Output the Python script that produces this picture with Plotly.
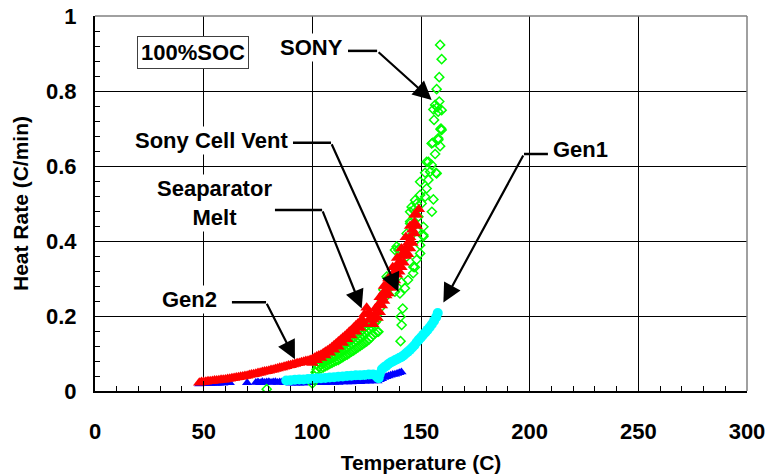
import plotly.graph_objects as go

# ---------------- data ----------------
# Gen2 (red triangles): main trace of readings plus the edges of the noisy band
GEN2_T = [48, 49, 50, 51, 52, 53, 54, 55, 56, 57, 58, 59, 60, 61, 62, 63, 64, 65, 66, 67,
          68, 69, 70, 71, 72, 73, 74, 75, 76, 77, 78, 79, 80, 81, 82, 83, 84, 85, 86, 87,
          88, 89, 90, 91, 92, 93, 94, 95, 96, 97, 98, 99, 100, 101, 102, 103, 104, 105,
          106, 107, 108, 109, 110, 111, 112, 113, 114, 115, 116, 117, 118, 119, 120, 121,
          122, 123, 124, 125, 126, 127, 128, 129, 130, 131, 132, 133, 134, 135, 136, 137,
          138, 139, 140, 141, 142, 143, 144, 145, 146, 147, 148, 149,
          100, 102, 104, 106, 108, 110, 112, 114, 116, 118, 120, 122, 124, 126, 128, 130,
          132, 134, 136, 138, 140, 142, 144, 146, 148,
          131, 133, 135, 137, 139, 141, 143, 145, 147,
          129, 131, 133, 135, 137, 139, 141, 143, 145, 147]
GEN2_R = [0.022, 0.024, 0.024, 0.025, 0.026, 0.026, 0.027, 0.028, 0.028, 0.029, 0.030,
          0.030, 0.031, 0.032, 0.033, 0.034, 0.035, 0.036, 0.037, 0.038, 0.039, 0.040,
          0.041, 0.043, 0.044, 0.045, 0.046, 0.048, 0.049, 0.051, 0.052, 0.053, 0.054,
          0.056, 0.057, 0.059, 0.060, 0.062, 0.063, 0.065, 0.066, 0.068, 0.069, 0.071,
          0.072, 0.074, 0.075, 0.077, 0.078, 0.080, 0.081, 0.083, 0.085, 0.089, 0.092,
          0.095, 0.097, 0.101, 0.105, 0.108, 0.112, 0.117, 0.122, 0.127, 0.132, 0.137,
          0.142, 0.147, 0.152, 0.158, 0.163, 0.169, 0.175, 0.180, 0.185, 0.190, 0.205,
          0.222, 0.210, 0.195, 0.190, 0.200, 0.215, 0.235, 0.250, 0.265, 0.280, 0.290,
          0.300, 0.310, 0.320, 0.335, 0.345, 0.360, 0.370, 0.380, 0.395, 0.410, 0.430,
          0.450, 0.470, 0.485,
          0.075, 0.082, 0.088, 0.095, 0.102, 0.110, 0.118, 0.128, 0.138, 0.148, 0.158,
          0.168, 0.178, 0.190, 0.178, 0.195, 0.228, 0.255, 0.275, 0.295, 0.318, 0.342,
          0.365, 0.395, 0.440,
          0.210, 0.240, 0.260, 0.290, 0.310, 0.330, 0.360, 0.380, 0.420,
          0.220, 0.250, 0.280, 0.300, 0.330, 0.355, 0.380, 0.410, 0.440, 0.470]

# SONY (green open diamonds)
SONY_T = [79,
          100, 100.5, 101, 101.5, 102, 103, 104, 105, 106, 107, 108, 109, 110, 111, 112,
          113, 114, 115, 116, 117, 118, 119, 120, 121, 122, 123, 124, 125, 126, 127, 128,
          129, 130,
          102, 103, 104, 105, 106, 107, 108, 109, 110, 111, 112, 113, 114, 115, 116, 117,
          118, 119, 120, 121, 122, 123, 124, 125, 126, 127, 128, 129, 130,
          104, 105, 106, 107, 108, 109, 110, 111, 112, 113, 114, 115, 116, 117, 118, 119,
          120, 121, 122, 123, 124, 125, 126, 127, 128, 129, 130,
          130.4, 131, 132, 132.7, 133.5, 134.2, 134.8, 135.7, 136, 137, 138, 138, 138.8,
          139.6, 140, 140.3, 141, 142.6, 143.4, 143.4, 144, 145, 145, 145, 145, 145.7,
          146.4, 146.5, 146.5, 146.5, 147.2, 147.3, 148, 148, 148, 148.8,
          140.6, 141.1, 140.6, 141.6,
          149.6, 149.6, 149.6, 150.3, 151.1, 151.1, 151.1, 151.9, 151.9, 152.6, 153.4,
          153.4, 154.2, 154.9, 154.9, 155.7, 155.0, 156.5, 156.9, 157.2, 158.0, 158.8,
          155.4, 159.0, 159.5, 149.6, 152.6,
          157.9, 159.2, 156.0, 157.9, 157.5, 155.7, 159.5, 156.5, 158.4, 157.2, 158.4,
          159.5, 158.8]
SONY_R = [0.005,
          0.020, 0.030, 0.040, 0.050, 0.058, 0.065, 0.070, 0.075, 0.079, 0.082, 0.085,
          0.088, 0.091, 0.094, 0.098, 0.102, 0.106, 0.110, 0.115, 0.120, 0.125, 0.130,
          0.135, 0.140, 0.145, 0.150, 0.155, 0.160, 0.166, 0.172, 0.178, 0.183, 0.190,
          0.070, 0.078, 0.085, 0.090, 0.095, 0.098, 0.100, 0.104, 0.107, 0.110, 0.113,
          0.117, 0.120, 0.124, 0.128, 0.132, 0.137, 0.142, 0.147, 0.152, 0.157, 0.162,
          0.168, 0.173, 0.178, 0.184, 0.190, 0.197, 0.205,
          0.060, 0.063, 0.066, 0.069, 0.072, 0.075, 0.078, 0.081, 0.083, 0.087, 0.090,
          0.094, 0.097, 0.101, 0.105, 0.108, 0.112, 0.116, 0.120, 0.124, 0.128, 0.132,
          0.137, 0.143, 0.150, 0.154, 0.158,
          0.158, 0.220, 0.240, 0.270, 0.250, 0.305, 0.300, 0.296, 0.280, 0.320, 0.265,
          0.376, 0.385, 0.376, 0.380, 0.260, 0.290, 0.274, 0.358, 0.420, 0.296, 0.447,
          0.478, 0.412, 0.452, 0.491, 0.314, 0.331, 0.438, 0.483, 0.330, 0.509, 0.350,
          0.429, 0.500, 0.465,
          0.133, 0.176, 0.198, 0.220,
          0.558, 0.523, 0.389, 0.500, 0.438, 0.412, 0.416, 0.582, 0.518, 0.540, 0.563,
          0.611, 0.585, 0.660, 0.603, 0.511, 0.478, 0.632, 0.582, 0.580, 0.670, 0.653,
          0.662, 0.698, 0.696, 0.367, 0.611,
          0.674, 0.700, 0.723, 0.745, 0.757, 0.751, 0.749, 0.763, 0.772, 0.805, 0.837,
          0.885, 0.923]

# Gen1 (cyan circles)
GEN1_T = [88, 90, 92, 94, 96, 98, 100, 102, 104, 106, 108, 110, 112, 114, 116, 118, 120,
          122, 124, 126, 128, 129, 130, 130.5, 131, 132, 133, 134, 135, 136, 137, 138,
          139, 140, 141, 142, 143, 144, 145, 146, 147, 148, 149, 150, 151, 152, 153, 154,
          155, 156, 157, 157.7]
GEN1_R = [0.028, 0.029, 0.030, 0.031, 0.031, 0.032, 0.033, 0.034, 0.034, 0.035, 0.036,
          0.037, 0.038, 0.039, 0.040, 0.041, 0.042, 0.042, 0.043, 0.044, 0.044, 0.042,
          0.036, 0.034, 0.045, 0.058, 0.063, 0.067, 0.072, 0.076, 0.079, 0.082, 0.085,
          0.088, 0.091, 0.095, 0.100, 0.105, 0.110, 0.116, 0.122, 0.130, 0.137, 0.143,
          0.150, 0.156, 0.163, 0.170, 0.178, 0.187, 0.197, 0.208]

# unlabeled baseline series (dark blue)
BASE_T = [48, 49, 50, 51, 52, 53, 54, 55, 56, 57, 58, 59, 60, 61, 62, 70,
          74, 75, 76, 77, 78, 79, 80, 81, 82, 83, 84, 85, 86, 87, 88, 89, 90, 92, 94, 96,
          98, 100, 102, 104, 106, 108, 110, 112, 114, 116, 118, 120, 122, 124, 126, 128,
          130, 131, 132, 133, 134, 135, 136, 137, 138, 139, 140, 141]
BASE_R = [0.019, 0.020, 0.020, 0.020, 0.021, 0.020, 0.021, 0.021, 0.021, 0.021, 0.022,
          0.021, 0.022, 0.022, 0.022, 0.022,
          0.023, 0.024, 0.022, 0.025, 0.023, 0.024, 0.025, 0.023, 0.024, 0.025, 0.023,
          0.024, 0.024, 0.023, 0.022, 0.022, 0.021, 0.021, 0.021, 0.021, 0.022, 0.022,
          0.022, 0.022, 0.022, 0.023, 0.023, 0.023, 0.024, 0.024, 0.024, 0.025, 0.025,
          0.026, 0.026, 0.027, 0.027, 0.030, 0.033, 0.036, 0.038, 0.040, 0.042, 0.044,
          0.045, 0.047, 0.049, 0.051]

X_TICKS = [0, 50, 100, 150, 200, 250, 300]
Y_TICKS = [0, 0.2, 0.4, 0.6, 0.8, 1]

X_TITLE = "Temperature (C)"
Y_TITLE = "Heat Rate (C/min)"

FONT = "Liberation Sans, Arial, sans-serif"

fig = go.Figure()
fig.add_trace(go.Scatter(x=BASE_T, y=BASE_R, mode="markers", name="base",
                         marker=dict(symbol="triangle-up", size=9, color="#0000FF")))
fig.add_trace(go.Scatter(x=SONY_T, y=SONY_R, mode="markers", name="SONY",
                         marker=dict(symbol="diamond-open", size=7, color="#00FF00",
                                     line=dict(width=1.5, color="#00FF00"))))
fig.add_trace(go.Scatter(x=GEN2_T, y=GEN2_R, mode="markers", name="Gen2",
                         marker=dict(symbol="triangle-up", size=11, color="#FF0000")))
fig.add_trace(go.Scatter(x=GEN1_T, y=GEN1_R, mode="markers", name="Gen1",
                         marker=dict(symbol="circle", size=10, color="#00FFFF")))

big = dict(family=FONT, size=22, color="black", weight="bold")
title_font = dict(family=FONT, size=21, color="black", weight="bold")

fig.update_layout(
    width=768, height=474,
    margin=dict(l=95, r=21, t=16, b=83),
    paper_bgcolor="white", plot_bgcolor="white",
    showlegend=False,
    font=big,
    xaxis=dict(range=[0, 300], tickvals=X_TICKS, showgrid=True, gridcolor="black",
               gridwidth=1, zeroline=False, showline=True, linecolor="black",
               linewidth=2, ticks="inside", ticklen=10, tickcolor="black",
               minor=dict(dtick=10, ticks="inside", ticklen=5, tickcolor="black",
                          showgrid=False),
               tickfont=big, ticklabelstandoff=20, automargin=False,
               title=dict(text=X_TITLE, font=title_font, standoff=14)),
    yaxis=dict(range=[0, 1], tickvals=Y_TICKS, showgrid=True, gridcolor="black",
               gridwidth=1, zeroline=False, showline=True, linecolor="black",
               linewidth=2, ticks="inside", ticklen=5, tickcolor="black",
               minor=dict(dtick=0.04, ticks="inside", ticklen=5, tickcolor="black",
                          showgrid=False),
               tickfont=big, ticklabelstandoff=12, automargin=False,
               title=dict(text=Y_TITLE, font=title_font, standoff=12)),
)

# frame top / right
fig.add_shape(type="line", xref="paper", yref="paper", x0=0, x1=1, y0=1, y1=1,
              line=dict(color="#808080", width=1.5))
fig.add_shape(type="line", xref="paper", yref="paper", x0=1, x1=1, y0=0, y1=1,
              line=dict(color="#808080", width=1.5))

# callouts: (text, text x, text y, elbow start x, elbow x, elbow y, tip x, tip y)
CALLOUTS = [
    ("SONY", 99.8, 0.917, 116.4, 129.8, 0.907, 154.9, 0.776),
    ("Sony Cell Vent", 53.4, 0.669, 91.1, 108.6, 0.662, 139.6, 0.265),
    ("Seaparator<br>Melt", 55.2, 0.501, 82.8, 104.5, 0.483, 122.7, 0.220),
    ("Gen2", 43.7, 0.243, 63.0, 78.7, 0.237, 92.0, 0.085),
    ("Gen1", 223.2, 0.643, 208.4, 197.4, 0.632, 160.3, 0.236),
]
for txt, tx, ty, sx, ex, ey, px, py in CALLOUTS:
    fig.add_shape(type="line", x0=sx, x1=ex, y0=ey, y1=ey, xref="x", yref="y",
                  line=dict(color="black", width=2.5))
    fig.add_annotation(x=px, y=py, ax=ex, ay=ey, axref="x", ayref="y", xref="x",
                       yref="y", text="", showarrow=True, arrowhead=2, arrowsize=1.7,
                       arrowwidth=2.2, arrowcolor="black", standoff=0)
    fig.add_annotation(x=tx, y=ty, xref="x", yref="y", text=txt, showarrow=False,
                       font=big, bgcolor="white", align="center")

fig.add_annotation(x=45.1, y=0.903, xref="x", yref="y", text="100%SOC", showarrow=False,
                   font=big, bgcolor="white", bordercolor="#404040", borderwidth=1,
                   borderpad=3)

fig.write_html("out.html")
